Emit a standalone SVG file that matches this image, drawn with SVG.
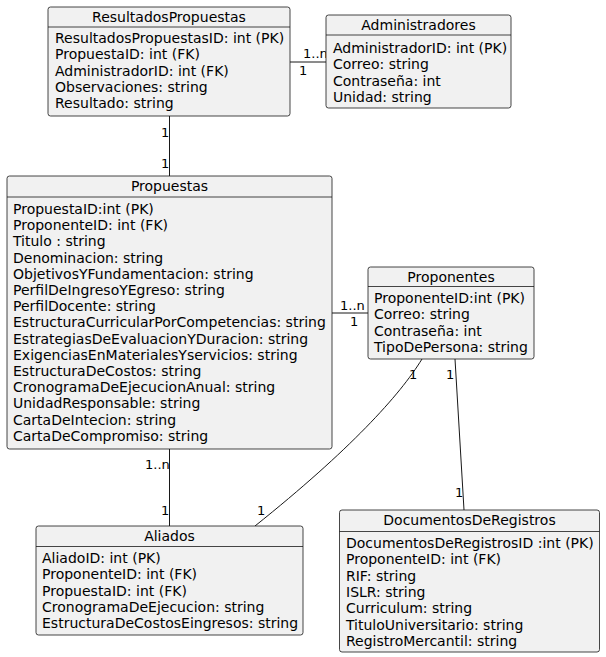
<svg xmlns="http://www.w3.org/2000/svg" width="606" height="657" viewBox="0 0 606 657">
<style>
.box{fill:#F1F1F1;stroke:#181818;stroke-width:0.8}
.div{stroke:#181818;stroke-width:0.8}
text{font-family:"DejaVu Sans",sans-serif;font-size:14px;fill:#000}
.t{text-anchor:middle}
.lbl{font-size:13px}
.edge{stroke:#181818;stroke-width:1;fill:none}
</style>
<rect width="606" height="657" fill="#FFFFFF"/>
<g id="connectors">
<line class="edge" x1="290" y1="62" x2="326" y2="62"/>
<line class="edge" x1="169.5" y1="116" x2="169.5" y2="176"/>
<line class="edge" x1="332" y1="313" x2="368" y2="313"/>
<line class="edge" x1="169.5" y1="449" x2="169.5" y2="526"/>
<path class="edge" d="M422,359 C400,395 350,450 255,526"/>
<line class="edge" x1="455" y1="359" x2="464" y2="510"/>
<text class="lbl" x="303" y="58">1..n</text>
<text class="lbl" x="299" y="75">1</text>
<text class="lbl" x="161" y="137">1</text>
<text class="lbl" x="161" y="168">1</text>
<text class="lbl" x="340" y="310">1..n</text>
<text class="lbl" x="350" y="326">1</text>
<text class="lbl" x="145" y="469">1..n</text>
<text class="lbl" x="161" y="515">1</text>
<text class="lbl" x="409" y="379">1</text>
<text class="lbl" x="257" y="515">1</text>
<text class="lbl" x="446" y="379">1</text>
<text class="lbl" x="455" y="497">1</text>
</g>
<g id="ResultadosPropuestas">
<rect class="box" x="48" y="7" width="242" height="109" rx="2.5"/>
<line class="div" x1="48" y1="27" x2="290" y2="27"/>
<text class="t" x="169" y="22">ResultadosPropuestas</text>
<text x="55" y="43"><tspan x="55">ResultadosPropuestasID: int (PK)</tspan><tspan x="55" dy="16.3">PropuestaID: int (FK)</tspan><tspan x="55" dy="16.3">AdministradorID: int (FK)</tspan><tspan x="55" dy="16.3">Observaciones: string</tspan><tspan x="55" dy="16.3">Resultado: string</tspan></text>
</g>
<g id="Administradores">
<rect class="box" x="326" y="15" width="185" height="93" rx="2.5"/>
<line class="div" x1="326" y1="35" x2="511" y2="35"/>
<text class="t" x="418.5" y="30">Administradores</text>
<text x="333" y="53"><tspan x="333">AdministradorID: int (PK)</tspan><tspan x="333" dy="16.3">Correo: string</tspan><tspan x="333" dy="16.3">Contraseña: int</tspan><tspan x="333" dy="16.3">Unidad: string</tspan></text>
</g>
<g id="Propuestas">
<rect class="box" x="7" y="176" width="325" height="273" rx="2.5"/>
<line class="div" x1="7" y1="197" x2="332" y2="197"/>
<text class="t" x="169.5" y="191">Propuestas</text>
<text x="13" y="214"><tspan x="13">PropuestaID:int (PK)</tspan><tspan x="13" dy="16.2">ProponenteID: int (FK)</tspan><tspan x="13" dy="16.2">Titulo : string</tspan><tspan x="13" dy="16.2">Denominacion: string</tspan><tspan x="13" dy="16.2">ObjetivosYFundamentacion: string</tspan><tspan x="13" dy="16.2">PerfilDeIngresoYEgreso: string</tspan><tspan x="13" dy="16.2">PerfilDocente: string</tspan><tspan x="13" dy="16.2">EstructuraCurricularPorCompetencias: string</tspan><tspan x="13" dy="16.2">EstrategiasDeEvaluacionYDuracion: string</tspan><tspan x="13" dy="16.2">ExigenciasEnMaterialesYservicios: string</tspan><tspan x="13" dy="16.2">EstructuraDeCostos: string</tspan><tspan x="13" dy="16.2">CronogramaDeEjecucionAnual: string</tspan><tspan x="13" dy="16.2">UnidadResponsable: string</tspan><tspan x="13" dy="16.2">CartaDeIntecion: string</tspan><tspan x="13" dy="16.2">CartaDeCompromiso: string</tspan></text>
</g>
<g id="Proponentes">
<rect class="box" x="368" y="267" width="166" height="92" rx="2.5"/>
<line class="div" x1="368" y1="286.5" x2="534" y2="286.5"/>
<text class="t" x="451" y="282">Proponentes</text>
<text x="374" y="303"><tspan x="374">ProponenteID:int (PK)</tspan><tspan x="374" dy="16.3">Correo: string</tspan><tspan x="374" dy="16.3">Contraseña: int</tspan><tspan x="374" dy="16.3">TipoDePersona: string</tspan></text>
</g>
<g id="Aliados">
<rect class="box" x="36" y="526" width="267" height="109" rx="2.5"/>
<line class="div" x1="36" y1="546.5" x2="303" y2="546.5"/>
<text class="t" x="169.5" y="541">Aliados</text>
<text x="42" y="563"><tspan x="42">AliadoID: int (PK)</tspan><tspan x="42" dy="16.3">ProponenteID: int (FK)</tspan><tspan x="42" dy="16.3">PropuestaID: int (FK)</tspan><tspan x="42" dy="16.3">CronogramaDeEjecucion: string</tspan><tspan x="42" dy="16.3">EstructuraDeCostosEingresos: string</tspan></text>
</g>
<g id="DocumentosDeRegistros">
<rect class="box" x="339.5" y="510" width="260" height="142" rx="2.5"/>
<line class="div" x1="339.5" y1="531.5" x2="599.5" y2="531.5"/>
<text class="t" x="469.5" y="525">DocumentosDeRegistros</text>
<text x="346" y="548"><tspan x="346">DocumentosDeRegistrosID :int (PK)</tspan><tspan x="346" dy="16.3">ProponenteID: int (FK)</tspan><tspan x="346" dy="16.3">RIF: string</tspan><tspan x="346" dy="16.3">ISLR: string</tspan><tspan x="346" dy="16.3">Curriculum: string</tspan><tspan x="346" dy="16.3">TituloUniversitario: string</tspan><tspan x="346" dy="16.3">RegistroMercantil: string</tspan></text>
</g>
</svg>
